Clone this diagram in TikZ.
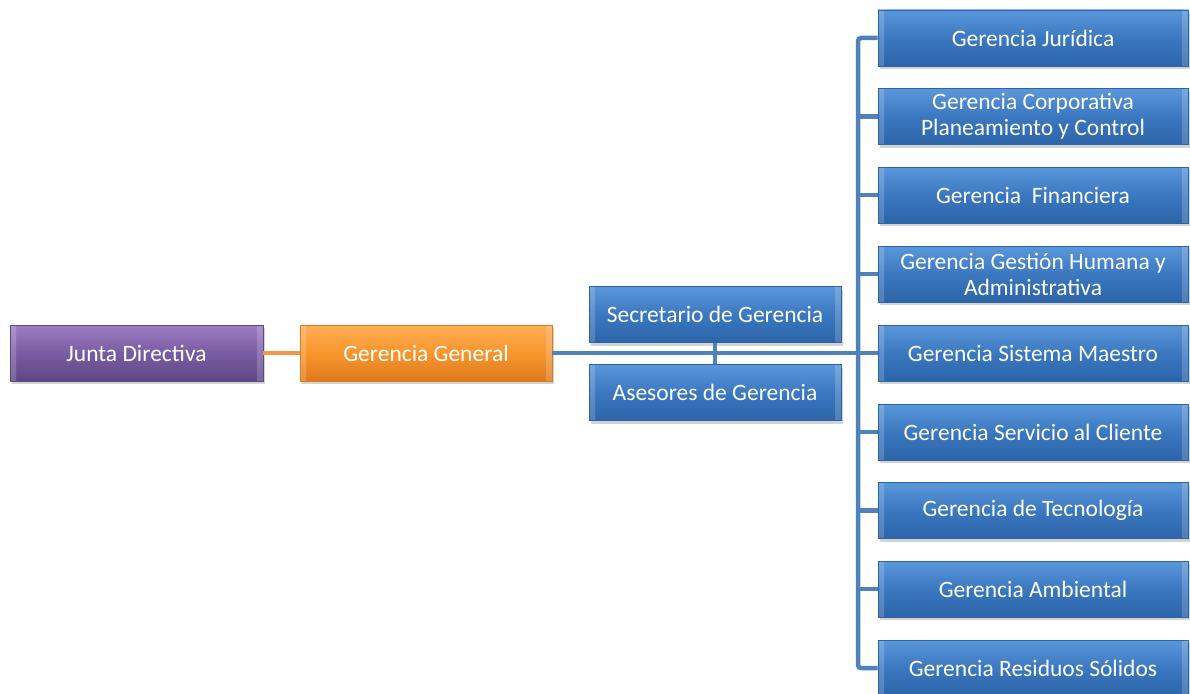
\documentclass[tikz,border=0pt]{standalone}
\usepackage{fontspec}
\setmainfont{Carlito}
\usetikzlibrary{shadows,calc}
\definecolor{blueA}{HTML}{5A97DA}
\definecolor{blueB}{HTML}{3B78C0}
\definecolor{blueC}{HTML}{2C64A8}
\definecolor{bline}{HTML}{4F81BD}
\definecolor{purA}{HTML}{9C7DC4}
\definecolor{purB}{HTML}{7A5CA3}
\definecolor{purC}{HTML}{5F4683}
\definecolor{orA}{HTML}{FDAE55}
\definecolor{orB}{HTML}{F8962E}
\definecolor{orC}{HTML}{DD7A1B}
\definecolor{oline}{HTML}{F79646}
\tikzset{
  x=1pt, y=-1pt,
  bevel/.style={path picture={
    \fill[white,opacity=0.35] (path picture bounding box.north west) -- (path picture bounding box.north east)
      -- ($(path picture bounding box.north east)+(-6,-6)$) -- ($(path picture bounding box.north west)+(6,-6)$) -- cycle;
    \fill[white,opacity=0.18] (path picture bounding box.north west) -- ($(path picture bounding box.north west)+(6,-6)$)
      -- ($(path picture bounding box.south west)+(6,6)$) -- (path picture bounding box.south west) -- cycle;
    \fill[white,opacity=0.18] (path picture bounding box.north east) -- ($(path picture bounding box.north east)+(-6,-6)$)
      -- ($(path picture bounding box.south east)+(-6,6)$) -- (path picture bounding box.south east) -- cycle;
    \fill[black,opacity=0.18] (path picture bounding box.south west) -- (path picture bounding box.south east)
      -- ($(path picture bounding box.south east)+(-6,6)$) -- ($(path picture bounding box.south west)+(6,6)$) -- cycle;
  }},
  box/.style={rectangle, minimum height=56pt, text=white, font=\fontsize{23.5}{26}\selectfont,
    align=center, inner sep=2pt, bevel,
    drop shadow={shadow xshift=2pt, shadow yshift=-3pt, opacity=0.35}},
  bluebox/.style={box, minimum width=310pt, top color=blueA, bottom color=blueC, middle color=blueB, draw=blueC, line width=0.6pt},
  midbox/.style={box, minimum width=252pt, top color=blueA, bottom color=blueC, middle color=blueB, draw=blueC, line width=0.6pt},
  purbox/.style={box, minimum width=253pt, top color=purA, bottom color=purC, middle color=purB, draw=purC, line width=0.6pt},
  orbox/.style={box, minimum width=252pt, top color=orA, bottom color=orC, middle color=orB, draw=orC, line width=0.6pt},
  conn/.style={draw=bline, line width=4.5pt},
  oconn/.style={draw=oline, line width=4.5pt},
}
\begin{document}
\begin{tikzpicture}
\useasboundingbox (0,0) rectangle (1190,693);
% nodes
\node[purbox] (jd) at (136.5,353) {Junta Directiva};
\node[orbox] (gg) at (426,353) {Gerencia General};
\node[midbox] (sec) at (715,314.5) {Secretario de Gerencia};
\node[midbox] (ase) at (715,392.5) {Asesores de Gerencia};
\node[bluebox] (g1) at (1033,38) {Gerencia Jurídica};
\node[bluebox] (g2) at (1033,116.5) {Gerencia Corporativa\\Planeamiento y Control};
\node[bluebox] (g3) at (1033,195) {Gerencia~ Financiera};
\node[bluebox] (g4) at (1033,274) {Gerencia Gestión Humana y\\Administrativa};
\node[bluebox] (g5) at (1033,353) {Gerencia Sistema Maestro};
\node[bluebox] (g6) at (1033,432) {Gerencia Servicio al Cliente};
\node[bluebox] (g7) at (1033,510.5) {Gerencia de Tecnología};
\node[bluebox] (g8) at (1033,589) {Gerencia Ambiental};
\node[bluebox] (g9) at (1033,668) {Gerencia Residuos Sólidos};
% connectors
\coordinate (trunk) at (858,353);
\draw[oconn] (jd.east) -- (gg.west);
\draw[conn] (gg.east) -- (g5.west);
\draw[conn] (sec.south) -- (ase.north);
\draw[conn, rounded corners=3pt] (g1.west) -| (trunk) |- (g9.west);
\foreach \n in {g2,g3,g4,g6,g7,g8} {\draw[conn] (\n.west) -- (\n.west -| trunk);}
\end{tikzpicture}
\end{document}
